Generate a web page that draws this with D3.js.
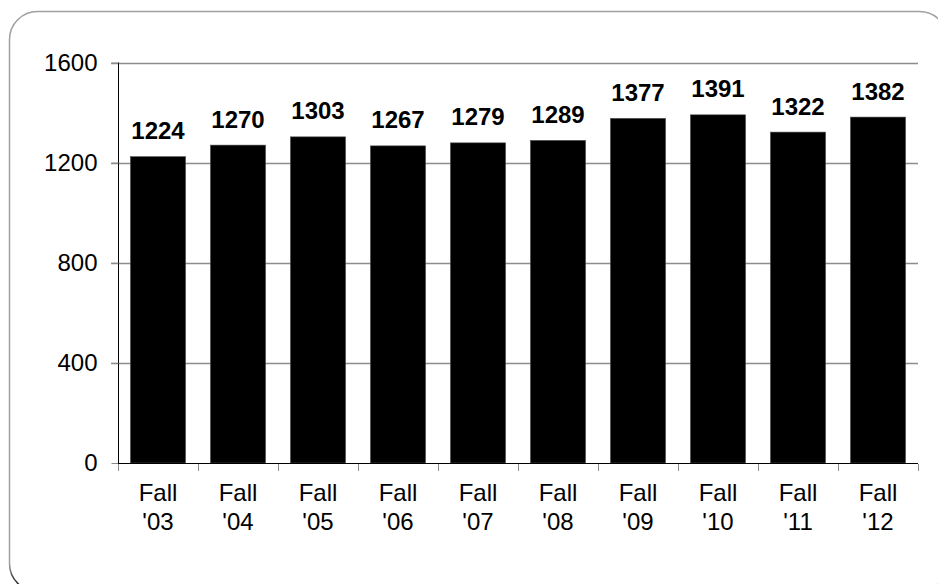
<!DOCTYPE html>
<html>
<head>
<meta charset="utf-8">
<script src="https://cdn.jsdelivr.net/npm/d3@7"></script>
<style>
  html, body { margin: 0; padding: 0; background: #fff; }
  svg { display: block; }
  text { font-family: "Liberation Sans", Arial, sans-serif; }
</style>
</head>
<body>
<svg id="chart" width="938" height="584"></svg>
<script>
const categories = ["Fall\n'03", "Fall\n'04", "Fall\n'05", "Fall\n'06", "Fall\n'07", "Fall\n'08", "Fall\n'09", "Fall\n'10", "Fall\n'11", "Fall\n'12"];
const values = [1224, 1270, 1303, 1267, 1279, 1289, 1377, 1391, 1322, 1382];
const yTicks = [0, 400, 800, 1200, 1600];

const svg = d3.select("#chart");

// outer rounded border with darkening bottom
const defs = svg.append("defs");
const grad = defs.append("linearGradient").attr("id", "borderGrad")
  .attr("gradientUnits", "userSpaceOnUse").attr("x1", 0).attr("y1", 11).attr("x2", 0).attr("y2", 592);
grad.append("stop").attr("offset", 0.95).attr("stop-color", "#a0a0a0");
grad.append("stop").attr("offset", 0.995).attr("stop-color", "#000");
svg.append("rect").attr("x", 9.5).attr("y", 11.5).attr("width", 938).attr("height", 580)
  .attr("rx", 28).attr("ry", 28).attr("fill", "none")
  .attr("stroke", "url(#borderGrad)").attr("stroke-width", 1.5);

const x = d3.scaleBand().domain(categories).range([118, 918]).paddingInner(0.31).paddingOuter(0.155);
const y = d3.scaleLinear().domain([0, 1600]).range([463, 62.5]);

// gridlines
svg.append("g").selectAll("line").data(yTicks.filter(d => d > 0)).join("line")
  .attr("x1", 111).attr("x2", 918)
  .attr("y1", d => Math.round(y(d)) + 0.5).attr("y2", d => Math.round(y(d)) + 0.5)
  .attr("stroke", "#8c8c8c").attr("stroke-width", 1.3);

// y axis
const yAxis = svg.append("g").attr("transform", "translate(118.5,0)")
  .call(d3.axisLeft(y).tickValues(yTicks).tickSize(7).tickPadding(14).tickFormat(d3.format("d")));
yAxis.select(".domain").attr("stroke", "#000").attr("d", `M0,${y(1600)}V${y(0)}`);
yAxis.selectAll(".tick line").attr("stroke", "#8c8c8c");
yAxis.selectAll(".tick text").attr("font-size", 24).attr("fill", "#000")
  .attr("font-family", "'Liberation Sans', Arial, sans-serif");

// bars
svg.append("g").selectAll("rect").data(values).join("rect")
  .attr("x", (d, i) => x(categories[i]))
  .attr("width", x.bandwidth())
  .attr("y", d => y(d))
  .attr("height", d => y(0) - y(d))
  .attr("fill", "#000")
  .attr("stroke", "#555").attr("stroke-width", 0.6);

// x axis baseline and ticks
const xg = svg.append("g");
xg.append("line").attr("x1", 118).attr("x2", 918).attr("y1", 463.5).attr("y2", 463.5)
  .attr("stroke", "#000").attr("stroke-width", 1);
const stepB = x.step();
xg.selectAll("line.tk").data(d3.range(categories.length + 1)).join("line").attr("class", "tk")
  .attr("x1", i => 118.5 + i * stepB).attr("x2", i => 118.5 + i * stepB)
  .attr("y1", 464).attr("y2", 471).attr("stroke", "#8c8c8c");

// category labels
const lbl = svg.append("g").selectAll("text").data(categories).join("text")
  .attr("text-anchor", "middle").attr("font-size", 24).attr("fill", "#000")
  .attr("transform", d => `translate(${x(d) + x.bandwidth() / 2},0)`);
lbl.each(function(d) {
  const parts = d.split("\n");
  d3.select(this).selectAll("tspan").data(parts).join("tspan")
    .attr("x", 0).attr("y", (p, j) => 501 + j * 29).text(p => p);
});

// value labels
svg.append("g").selectAll("text").data(values).join("text")
  .attr("x", (d, i) => x(categories[i]) + x.bandwidth() / 2)
  .attr("y", d => y(d) - 17.5)
  .attr("text-anchor", "middle").attr("font-size", 24).attr("font-weight", "bold").attr("fill", "#000")
  .text(d => d);
</script>
</body>
</html>
